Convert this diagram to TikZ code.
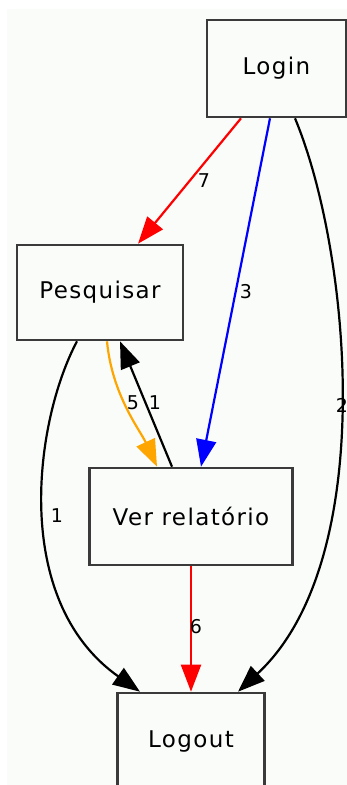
\documentclass[tikz,border=0pt]{standalone}
\usepackage{fontspec}
\setmainfont{DejaVu Sans}
\newfontfamily\boxfont[LetterSpace=6]{DejaVu Sans}
\usetikzlibrary{arrows.meta,calc}
\definecolor{bgc}{HTML}{FAFCFA}
\definecolor{boxline}{HTML}{3A3A3A}
\definecolor{orng}{HTML}{FFA500}
\tikzset{
  state/.style={draw=boxline, line width=2.6pt, fill=bgc, minimum height=97pt, inner sep=0pt, font=\boxfont\fontsize{23}{27}\selectfont},
  edge/.style={line width=2.2pt, -{Triangle[length=27pt,width=20pt]}},
  lbl/.style={font=\fontsize{19}{22}\selectfont, inner sep=0pt}
}
\begin{document}
\begin{tikzpicture}[x=1pt,y=-1pt]
\useasboundingbox (0,0) rectangle (347,785);
\clip (0,0) rectangle (347,785);
\fill[white] (0,0) rectangle (347,785);
\fill[bgc] (7,9) rectangle (347,785);
\node[state, minimum width=139pt] (login) at (276.5,68.5) {Login};
\node[state, minimum width=166pt, minimum height=95pt] (pesq) at (100,292.5) {Pesquisar};
\node[state, minimum width=203pt] (ver) at (191,516.5) {Ver relatório};
\node[state, minimum width=147pt] (logout) at (191,741.5) {Logout};
% edges
\draw[edge, red] ([xshift=-35.5pt]login.south) -- ([xshift=38pt]pesq.north);
\draw[edge, blue] ([xshift=-6.5pt]login.south) -- ([xshift=10pt]ver.north);
\draw[edge, black] ([xshift=18.5pt]login.south) .. controls (350,250) and (380,560) .. ([xshift=47pt]logout.north);
\draw[edge, black] ([xshift=-23pt]pesq.south) .. controls (35,420) and (10,600) .. ([xshift=-51pt]logout.north);
\draw[edge, orng] ([xshift=7pt]pesq.south) .. controls (112,395) and (140,430) .. ([xshift=-34pt]ver.north);
\draw[edge, black] ([xshift=-19pt]ver.north) -- ([xshift=20pt]pesq.south);
\draw[edge, red] (ver.south) -- (logout.north);
% labels
\node[lbl] (l7) at (204,181) {7};
\node[lbl] (l3) at (246,292) {3};
\node[lbl] (l2) at (342,405) {2};
\node[lbl] (l1a) at (57,516) {1};
\node[lbl] (l5) at (133,403) {5};
\node[lbl] (l1b) at (155,403) {1};
\node[lbl] (l6) at (196,627) {6};
\end{tikzpicture}
\end{document}
